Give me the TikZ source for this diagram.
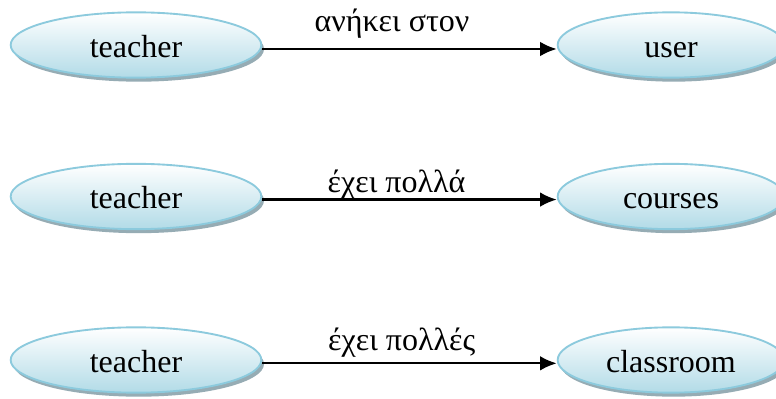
\documentclass[tikz,border=0pt]{standalone}
\usepackage{fontspec}
\setmainfont{Liberation Serif}
\usetikzlibrary{shapes.geometric,shadows,arrows.meta}
\definecolor{rimblue}{RGB}{140,202,221}
\definecolor{fillblue}{RGB}{178,219,231}
\definecolor{shadegrey}{RGB}{150,172,180}
\tikzset{
  entity/.style={ellipse, draw=rimblue, line width=1.4pt,
    top color=white, bottom color=fillblue,
    minimum width=#1, minimum height=49pt, inner sep=0pt,
    text height=18.4pt, text depth=0pt,
    font=\fontsize{24}{28}\selectfont,
    drop shadow={shadow xshift=2pt, shadow yshift=-3pt, fill=shadegrey, opacity=1}},
  entity/.default=188pt,
  link/.style={line width=1.7pt, -{Latex[length=12.5pt,width=11pt]}},
  relname/.style={anchor=base, inner sep=0pt, font=\fontsize{24}{28}\selectfont}
}
\begin{document}
\begin{tikzpicture}[x=0.75pt, y=-0.75pt]
\begin{scope}
\clip (0,0) rectangle (776,399);
\fill[white] (0,0) rectangle (776,399);

% left column
\node[entity] (t1) at (136,45) {teacher};
\node[entity] (t2) at (136,196.5) {teacher};
\node[entity] (t3) at (136,360) {teacher};

% right column, running past the right margin
\node[entity=170pt] (u) at (671,45) {user};
\node[entity=170pt] (c) at (671,196.5) {courses};
\node[entity=170pt] (r) at (671,360) {classroom};

% relations
\draw[link] ([yshift=-3pt]t1.east) -- ([yshift=-3pt]u.west);
\draw[link] ([yshift=-2.3pt]t2.east) -- ([yshift=-2.3pt]c.west);
\draw[link] ([yshift=-2.5pt]t3.east) -- ([yshift=-2.5pt]r.west);

\node[relname] (l1) at (392,32) {ανήκει στον};
\node[relname] (l2) at (396.5,192.7) {έχει πολλά};
\node[relname] (l3) at (401.7,350.7) {έχει πολλές};
\end{scope}
\pgfresetboundingbox
\useasboundingbox (0,0) rectangle (776,399);
\end{tikzpicture}
\end{document}
